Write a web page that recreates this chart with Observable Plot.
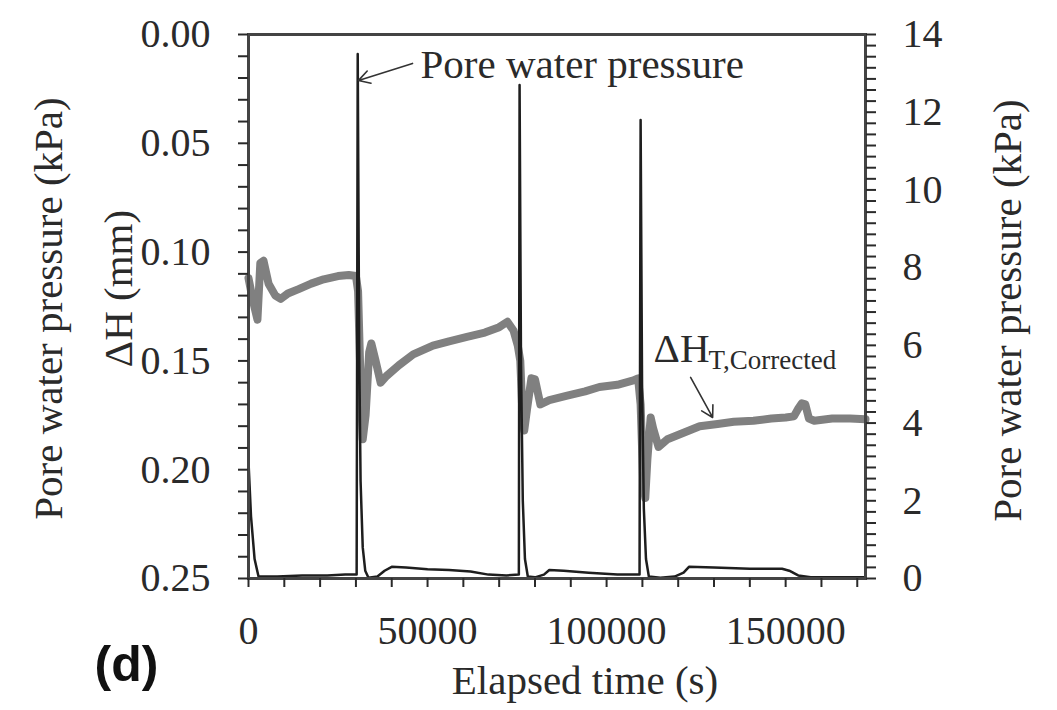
<!DOCTYPE html>
<html><head><meta charset="utf-8">
<script src="https://cdn.jsdelivr.net/npm/d3@7"></script>
<script src="https://cdn.jsdelivr.net/npm/@observablehq/plot@0.6"></script>
<style>body{margin:0;background:#fff}#chart svg{display:block}</style>
</head><body><div id="chart"></div>
<script>
// ΔH_T,Corrected (mm), left axis (reversed)
const dhTime = [0,1200,2500,3300,4200,5600,7500,9000,11000,14000,17500,21000,25000,28000,30000,
  30600,31300,31900,32700,33700,34300,35500,36900,38500,42000,46000,51500,56000,61000,66000,70000,72300,74000,75200,
  75900,76500,77000,77800,79000,80000,81500,84000,89000,94000,98000,103000,107500,108800,
  109500,110200,110800,111400,112300,113000,114500,117000,121500,126000,131000,135500,141000,146000,150000,152300,153500,154500,155500,156500,158000,163000,168000,172300];
const dhValue = [0.112,0.122,0.131,0.105,0.104,0.1145,0.120,0.1215,0.119,0.117,0.1145,0.1125,0.111,0.1105,0.111,
  0.118,0.160,0.186,0.175,0.146,0.142,0.150,0.160,0.157,0.152,0.147,0.143,0.141,0.139,0.137,0.1345,0.132,0.136,0.143,
  0.150,0.175,0.182,0.172,0.158,0.1585,0.170,0.168,0.166,0.164,0.162,0.161,0.159,0.158,
  0.170,0.205,0.213,0.195,0.176,0.181,0.1895,0.186,0.183,0.180,0.179,0.178,0.1775,0.1765,0.176,0.1755,0.172,0.1695,0.170,0.1765,0.1775,0.1765,0.1765,0.1768];

// Pore water pressure (kPa), right axis
const pwpTime = [0,700,1700,2800,8000,15000,22000,27000,30200,30500,30900,31300,31900,32600,33500,36000,38000,40000,44000,50000,56000,62000,67000,72000,75500,
  75700,76100,76600,77200,78000,80000,82500,84000,88000,95000,103000,109200,
  109500,109900,110400,111000,111800,115000,119000,121500,123000,130000,140000,149000,151000,153500,157000,172300];
const pwpValue = [3.0,1.6,0.5,0.05,0.05,0.08,0.08,0.1,0.1,13.5,6.0,2.5,0.8,0.2,0.02,0.05,0.2,0.3,0.28,0.24,0.22,0.18,0.1,0.08,0.1,
  12.7,5.5,2.0,0.5,0.05,0.03,0.1,0.22,0.2,0.15,0.1,0.1,
  11.8,5.0,1.8,0.5,0.05,0.02,0.05,0.15,0.3,0.28,0.25,0.25,0.2,0.08,0.03,0.03];

const xTickValues = [0, 50000, 100000, 150000];
const leftTickLabels = ["0.00","0.05","0.10","0.15","0.20","0.25"];
const rightTickLabels = ["0","2","4","6","8","10","12","14"];

const dhMax = 0.25, pwpMax = 14, xMax = 172300;
const toLeft = p => dhMax - p * dhMax / pwpMax;
const toKpa = y => (dhMax - y) * pwpMax / dhMax;

const dhData = dhTime.map((t, i) => ({t, v: dhValue[i]}));
const pwpData = pwpTime.map((t, i) => ({t, v: toLeft(pwpValue[i])}));

const serif = "Liberation Serif, Times New Roman, serif";
const ink = "#2a2a2a";

const xTicks = d3.range(0, 170001, 10000);
const leftTicks = d3.range(0, 26).map(k => k / 100);
const rightTicks = d3.range(0, 50).map(k => toLeft(k * 2 / 7));

const arrows = [
  {x1: 45800, y1: 0.0133, x2: 30730, y2: 0.0211},
  {x1: 123460, y1: 0.1576, x2: 129610, y2: 0.1760}
];

const chart = Plot.plot({
  width: 1057, height: 710,
  marginLeft: 248, marginRight: 192, marginTop: 34, marginBottom: 132,
  style: {fontFamily: serif, fontSize: "40px", background: "#fff", color: ink},
  x: {domain: [0, xMax], label: null},
  y: {domain: [0, dhMax], reverse: true, label: null},
  marks: [
    Plot.line(dhData, {x: "t", y: "v", stroke: "#808080", strokeWidth: 8, strokeLinejoin: "round", strokeLinecap: "round"}),
    Plot.line(pwpData, {x: "t", y: "v", stroke: "#1e1e1e", strokeWidth: 2.5, strokeLinejoin: "round"}),
    Plot.frame({stroke: "#444", strokeWidth: 3}),
    Plot.axisX(xTicks, {tickSize: 9, tickPadding: 28, stroke: ink, strokeWidth: 2, fontSize: 40, fill: ink, label: null,
      tickFormat: d => { const i = xTickValues.indexOf(d); return i >= 0 ? String(xTickValues[i]) : ""; }}),
    Plot.axisY(leftTicks, {anchor: "left", tickSize: 10, tickPadding: 28, stroke: ink, strokeWidth: 2, fontSize: 40, fill: ink, label: null,
      tickFormat: d => { const k = Math.round(d * 100); return k % 5 === 0 ? leftTickLabels[k / 5] : ""; }}),
    Plot.axisY(rightTicks, {anchor: "right", tickSize: 10, tickPadding: 27, stroke: ink, strokeWidth: 2, fontSize: 40, fill: ink, label: null,
      tickFormat: y => { const p = Math.round(toKpa(y) * 1000) / 1000; return (Number.isInteger(p) && p % 2 === 0) ? rightTickLabels[p / 2] : ""; }}),
    Plot.arrow(arrows, {x1: "x1", y1: "y1", x2: "x2", y2: "y2", stroke: "#333", strokeWidth: 1.6, headLength: 12}),
    Plot.text(["Pore water pressure"], {x: 48040, y: 0.0198, textAnchor: "start", lineAnchor: "bottom", fontSize: 41, fontFamily: serif, fill: ink}),
    Plot.text(["ΔH"], {x: 113130, y: 0.1507, textAnchor: "start", lineAnchor: "bottom", fontSize: 41, fontFamily: serif, fill: ink}),
    Plot.text(["T,Corrected"], {x: 128490, y: 0.1535, textAnchor: "start", lineAnchor: "bottom", fontSize: 27, fontFamily: serif, fill: ink}),
    Plot.text(["Elapsed time (s)"], {frameAnchor: "bottom", textAnchor: "middle", dx: 28, dy: 115, lineAnchor: "bottom", fontSize: 41, fontFamily: serif, fill: ink}),
    Plot.text(["Pore water pressure (kPa)"], {frameAnchor: "left", textAnchor: "middle", rotate: -90, dx: -200, dy: 2, lineAnchor: "middle", fontSize: 41, fontFamily: serif, fill: ink}),
    Plot.text(["ΔH (mm)"], {frameAnchor: "left", textAnchor: "middle", rotate: -90, dx: -130, dy: -18, lineAnchor: "middle", fontSize: 41, fontFamily: serif, fill: ink}),
    Plot.text(["Pore water pressure (kPa)"], {frameAnchor: "right", textAnchor: "middle", rotate: -90, dx: 142, dy: 4, lineAnchor: "middle", fontSize: 41, fontFamily: serif, fill: ink}),
    Plot.text(["(d)"], {frameAnchor: "bottom-left", textAnchor: "middle", dx: -122, dy: 102, lineAnchor: "bottom", fontSize: 50, fontWeight: "bold", fontFamily: "Liberation Sans, Arial, sans-serif", fill: "#111"})
  ]
});
document.getElementById("chart").appendChild(chart);
</script>
</body></html>
